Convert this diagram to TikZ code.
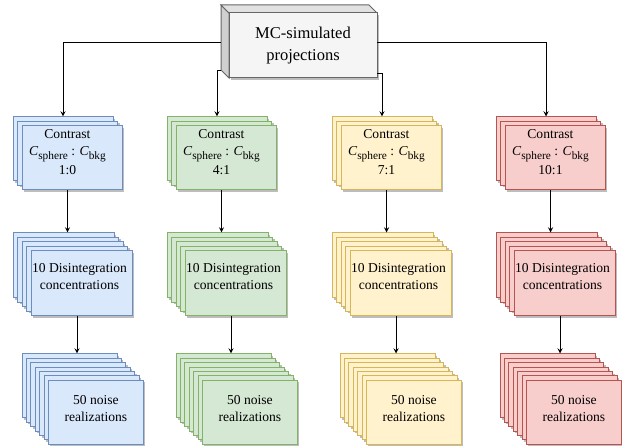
\documentclass[tikz,border=0pt]{standalone}
\usepackage{fontspec}
\setmainfont{Liberation Serif}
\usetikzlibrary{positioning}
\definecolor{bluefill}{HTML}{DAE8FC}
\definecolor{blueline}{HTML}{6C8EBF}
\definecolor{greenfill}{HTML}{D5E8D4}
\definecolor{greenline}{HTML}{82B366}
\definecolor{yellowfill}{HTML}{FFF2CC}
\definecolor{yellowline}{HTML}{D6B656}
\definecolor{redfill}{HTML}{F8CECC}
\definecolor{redline}{HTML}{B85450}
\definecolor{boxfill}{HTML}{F5F5F5}
\definecolor{boxline}{HTML}{666666}
\definecolor{shadowcol}{HTML}{BDBDBD}
\newcommand{\conc}[1]{\textit{C}\raisebox{-0.3em}{\fontsize{8.5}{10}\selectfont #1}}
\tikzset{
	layer/.style={
		rectangle,
		draw,
		inner sep=0pt,
		line width=0.75pt,
		preaction={fill=shadowcol, draw=none, transform canvas={xshift=1.5pt, yshift=-1.5pt}}
	},
	boxtext/.style={
		align=center,
		inner sep=0pt
	},
	link/.style={
		-stealth,
		line width=0.75pt
	}
}

\begin{document}
\begin{tikzpicture}[x=0.75pt, y=-0.75pt]
		\useasboundingbox (0,0) rectangle (622,448);
		% cube on top
		\fill[boxfill!85!black, draw=boxline, line width=0.75pt] (221,5) -- (229,13) -- (229,78) -- (221,70) -- cycle;
		\fill[boxfill!92!black, draw=boxline, line width=0.75pt] (221,5) -- (369,5) -- (377,13) -- (229,13) -- cycle;
		\draw node[layer, fill=boxfill, draw=boxline, minimum width=111pt, minimum height=48.75pt] (MC) at (303,45.5) {};
		\node[boxtext, font=\fontsize{12.4}{16}\selectfont] (MCtext) at (MC) {MC-simulated\\ projections};
		\coordinate (mcA) at (221,43);
		\coordinate (mcB) at (221,71);
		\coordinate (mcC) at (377,74);
		\coordinate (mcD) at (377,43);
		
		% stacks
		\foreach \colno/\fillcol/\linecol/\xcont/\xnoise in {1/bluefill/blueline/13/22, 2/greenfill/greenline/167/176, 3/yellowfill/yellowline/332/340, 4/redfill/redline/496/500}{
			\foreach \k in {1,2,3}
				\draw node[layer, fill=\fillcol, draw=\linecol, minimum width=75pt, minimum height=48pt] (C\colno-\k) at ({\xcont+4.5*(\k-1)+50}, {117+4.5*(\k-1)+32}) {};
			\foreach \k in {1,...,5}
				\draw node[layer, fill=\fillcol, draw=\linecol, minimum width=75.75pt, minimum height=48.75pt] (D\colno-\k) at ({\xcont+4.5*(\k-1)+50.5}, {233+4.5*(\k-1)+32.5}) {};
			\foreach \k in {1,...,7}
				\draw node[layer, fill=\fillcol, draw=\linecol, minimum width=71.25pt, minimum height=48pt] (N\colno-\k) at ({\xnoise+4.4*(\k-1)+47.5}, {354+4.4*(\k-1)+32}) {};
		}
		
		% texts and links
		\foreach \colno/\contrast in {1/1:0, 2/4:1, 3/7:1, 4/10:1}{
			\node[boxtext, font=\fontsize{10.2}{13}\selectfont, xshift=-3.4pt, yshift=4.5pt] (CT\colno) at (C\colno-3) {Contrast\\ \conc{sphere} : \conc{bkg}\\[1pt] \contrast};
			\node[boxtext, font=\fontsize{10.2}{12.5}\selectfont, xshift=-1.5pt, yshift=5pt] (DT\colno) at (D\colno-5) {10 Disintegration\\ concentrations};
			\node[boxtext, font=\fontsize{10.2}{12.5}\selectfont, yshift=3pt] (NT\colno) at (N\colno-7) {50 noise\\ realizations};
			
			\draw[link] (C\colno-2 |- C\colno-3.south) -- (C\colno-2 |- D\colno-1.north);
			\draw[link] (D\colno-4 |- D\colno-5.south) -- (D\colno-4 |- N\colno-1.north);
		}
		
		\draw[link] (mcA) -| (C1-1.north);
		\draw[link] (mcB) -| (C2-1.north);
		\draw[link] (mcC) -| (C3-1.north);
		\draw[link] (mcD) -| (C4-1.north);
	\end{tikzpicture}
\end{document}
